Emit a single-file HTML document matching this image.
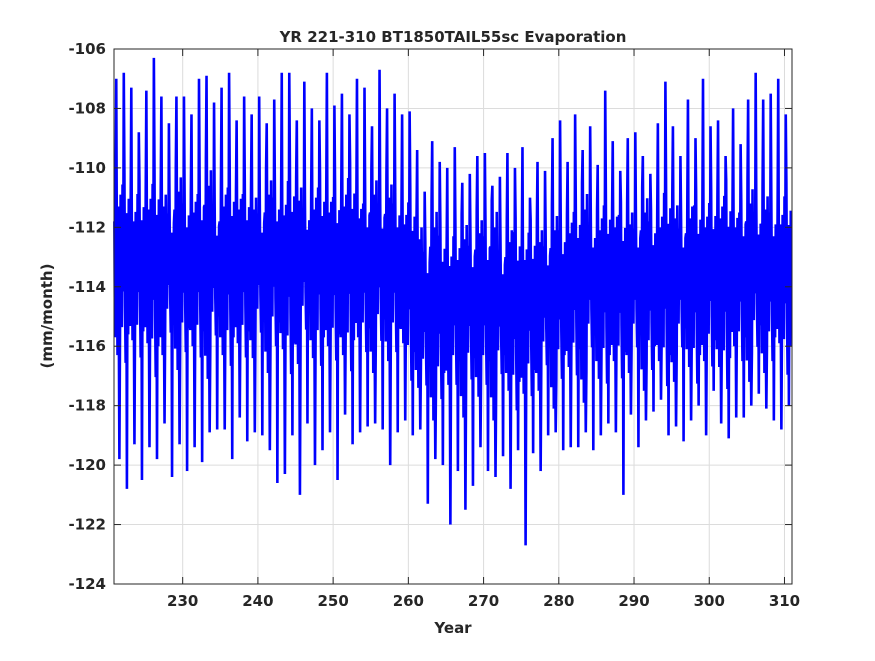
<!DOCTYPE html>
<html><head><meta charset="utf-8"><style>
html,body{margin:0;padding:0;background:#fff;}
svg text{font-family:"DejaVu Sans","Liberation Sans",sans-serif;font-weight:bold;fill:#262626;}
</style></head><body>
<svg id="chart" width="875" height="656" viewBox="0 0 875 656" xmlns="http://www.w3.org/2000/svg">
<rect width="875" height="656" fill="#fff"/>
<rect x="114" y="49" width="678" height="535" fill="#fff"/>
<g id="grid"></g>
<polyline id="series" fill="none" stroke="#0000ff" stroke-width="2.6" stroke-linejoin="miter"/>
<rect x="114" y="49" width="678" height="535" fill="none" stroke="#262626" stroke-width="1"/>
<g id="ticks"></g>
<text x="453" y="42" text-anchor="middle" font-size="15">YR 221-310 BT1850TAIL55sc Evaporation</text>
<text x="453" y="633" text-anchor="middle" font-size="15">Year</text>
<text transform="translate(52,316) rotate(-90)" text-anchor="middle" font-size="15">(mm/month)</text>
</svg>
<script>
const yearPeaks=[-107.0,-106.8,-107.3,-108.8,-107.4,-106.3,-107.6,-108.5,-107.6,-107.6,
-108.2,-107.0,-106.9,-107.8,-107.3,-106.8,-108.4,-107.6,-108.2,-107.6,
-108.5,-107.7,-106.8,-106.8,-108.4,-107.1,-108.0,-108.4,-106.8,-107.9,
-107.5,-108.2,-107.0,-107.3,-108.6,-106.7,-108.0,-107.5,-108.2,-108.1,
-109.4,-110.8,-109.1,-109.8,-110.0,-109.3,-110.5,-110.2,-109.6,-109.5,
-110.6,-110.3,-109.5,-110.0,-109.3,-111.0,-109.8,-110.1,-109.0,-108.4,
-109.8,-108.2,-109.4,-108.6,-109.9,-107.4,-109.1,-110.1,-109.0,-108.8,
-109.6,-110.2,-108.5,-107.1,-108.6,-109.6,-107.7,-109.0,-107.0,-108.6,
-108.4,-109.6,-108.0,-109.2,-107.7,-106.8,-107.7,-107.5,-107.0,-108.2];
const yearTroughs=[-119.8,-120.8,-119.3,-120.5,-119.4,-119.8,-118.6,-120.4,-119.3,-120.2,
-119.4,-119.9,-118.9,-118.8,-118.8,-119.8,-118.4,-119.2,-118.9,-119.0,
-119.5,-120.6,-120.3,-119.0,-121.0,-118.6,-120.0,-119.5,-118.9,-120.5,
-118.3,-119.3,-118.9,-118.7,-118.6,-118.8,-120.0,-118.9,-118.5,-119.0,
-118.8,-121.3,-119.8,-120.0,-122.0,-120.2,-121.5,-120.7,-119.4,-120.2,
-120.4,-119.7,-120.8,-119.5,-122.7,-119.6,-120.2,-119.0,-118.9,-119.5,
-119.4,-119.4,-118.9,-119.5,-119.0,-118.6,-118.9,-121.0,-118.3,-119.4,
-118.5,-118.2,-117.8,-119.0,-118.7,-119.2,-118.5,-118.0,-119.0,-117.5,
-118.6,-119.1,-118.4,-118.4,-118.0,-117.6,-118.1,-118.5,-118.8,-118.0];
const yearLevels=[-113.3,-113.2,-113.4,-113.3,-113.2,-113.4,-113.3,-113.3,-113.2,-113.4,
-113.3,-113.3,-113.2,-113.4,-113.3,-113.3,-113.2,-113.3,-113.4,-113.3,
-113.3,-113.2,-113.4,-113.3,-113.3,-113.2,-113.4,-113.3,-113.3,-113.4,
-113.3,-113.2,-113.3,-113.4,-113.3,-113.3,-113.2,-113.4,-113.5,-113.8,
-114.4,-114.8,-114.6,-114.7,-114.9,-114.5,-114.8,-114.6,-114.4,-114.5,
-114.6,-114.7,-114.5,-114.8,-114.9,-114.6,-114.5,-114.4,-114.5,-114.3,
-114.0,-113.9,-114.0,-113.8,-114.1,-113.9,-113.8,-114.0,-113.9,-113.8,
-113.9,-114.0,-113.8,-113.7,-113.9,-113.8,-113.7,-113.9,-113.8,-113.6,
-113.7,-113.8,-113.6,-113.7,-113.6,-113.5,-113.6,-113.7,-113.5,-113.6];
const yearSpread=[1.0,1.2,0.8,1.1,0.9,1.3,1.0,0.8,1.2,1.0,0.9,1.1,1.3,0.8,1.0,1.2,0.9,1.1,1.0,0.8,
1.2,1.0,0.9,1.3,1.1,0.8,1.0,1.2,0.9,1.1,1.0,1.3,0.8,1.0,1.2,0.9,1.1,1.0,0.8,1.2,
1.0,0.9,1.3,1.1,0.8,1.0,1.2,0.9,1.1,1.0,1.3,0.8,1.0,1.2,0.9,1.1,1.0,0.8,1.2,1.0,
0.9,1.1,1.3,0.8,1.0,1.2,0.9,1.1,1.0,0.8,1.2,1.0,0.9,1.3,1.1,0.8,1.0,1.2,0.9,1.1,
1.0,1.3,0.8,1.0,1.2,0.9,1.1,1.0,0.8,1.2];
const monthAnomsA=[1.5,-2.4,2.7,null,0.6,-3.0,2.0,-1.6,null,-2.2,2.4,-0.6];
const monthAnomsB=[-1.8,2.2,-0.8,null,2.6,-1.2,-2.8,1.4,null,0.9,-2.0,1.8];
const peakMonth=3, troughMonth=8;
const firstYear=220.92;
const xTicks=[230,240,250,260,270,280,290,300,310];
const yTicks=[-106,-108,-110,-112,-114,-116,-118,-120,-122,-124];

const X0=114,X1=792,Y0=49,Y1=584,xmin=220.87,xmax=311,ymin=-124,ymax=-106;
function xs(v){return X0+(v-xmin)/(xmax-xmin)*(X1-X0);}
function ys(v){return Y1-(v-ymin)/(ymax-ymin)*(Y1-Y0);}
const NS="http://www.w3.org/2000/svg";
const grid=document.getElementById('grid'),ticks=document.getElementById('ticks');
function mk(tag,attrs,parent){const e=document.createElementNS(NS,tag);for(const k in attrs)e.setAttribute(k,attrs[k]);parent.appendChild(e);return e;}
xTicks.forEach(t=>{const x=xs(t);
 const g=mk('line',{x1:x,x2:x,y1:Y0,y2:Y1,stroke:'#dcdcdc','stroke-width':1},grid);
 
 
 const a=mk('line',{x1:x,x2:x,y1:Y1,y2:Y1-7,stroke:'#262626'},ticks);
 
 
 const b=mk('line',{x1:x,x2:x,y1:Y0,y2:Y0+7,stroke:'#262626'},ticks);
 
 
 const tx=mk('text',{x:x,y:Y1+22,'text-anchor':'middle','font-size':15},ticks);tx.textContent=t;
 
 
});
yTicks.forEach(t=>{const y=ys(t);
 const g=mk('line',{x1:X0,x2:X1,y1:y,y2:y,stroke:'#dcdcdc','stroke-width':1},grid);
 
 
 const a=mk('line',{x1:X0,x2:X0+7,y1:y,y2:y,stroke:'#262626'},ticks);
 
 
 const b=mk('line',{x1:X1,x2:X1-7,y1:y,y2:y,stroke:'#262626'},ticks);
 
 
 const tx=mk('text',{x:X0-8,y:y+5,'text-anchor':'end','font-size':15},ticks);tx.textContent=t;
 
 
});
const pts=[];
for(let yi=0;yi<yearPeaks.length;yi++){
 const anoms=(yi%2===0)?monthAnomsA:monthAnomsB;
 for(let m=0;m<12;m++){
  let v;
  if(m===peakMonth)v=yearPeaks[yi];
  else if(m===troughMonth)v=yearTroughs[yi];
  else v=yearLevels[yi]+anoms[m]*yearSpread[yi];
  const t=firstYear+yi+m/12;
  pts.push(xs(t).toFixed(2)+','+ys(v).toFixed(2));
 }
}
document.getElementById('series').setAttribute('points',pts.join(' '));
</script>
</body></html>
